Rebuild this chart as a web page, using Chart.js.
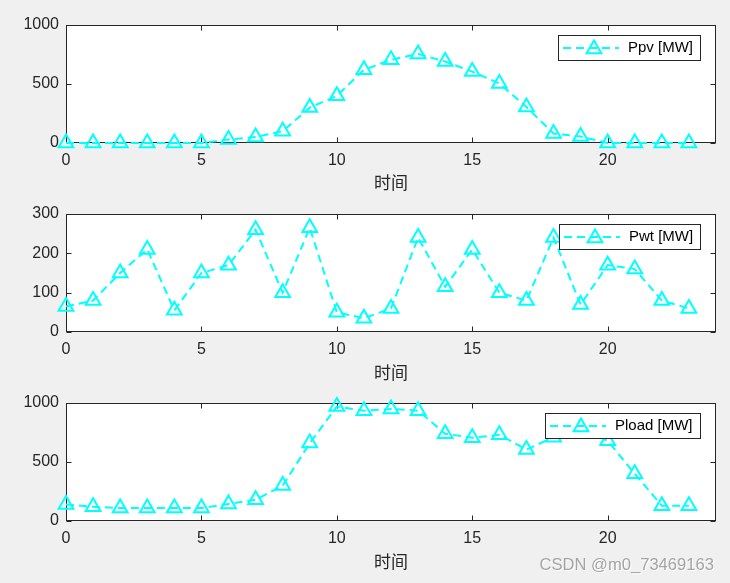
<!DOCTYPE html>
<html>
<head>
<meta charset="utf-8">
<script src="https://cdn.jsdelivr.net/npm/chart.js@4.4.0/dist/chart.umd.min.js"></script>
<style>
  body { margin: 0; background: #f0f0f0; width: 730px; height: 583px; position: relative; overflow: hidden; }
  canvas { position: absolute; left: 0; }
  #mark { position: absolute; right: 16px; top: 555px; font: 16.6px "Liberation Sans", Arial, sans-serif; color: #a4a4a4; text-shadow: 1px 1px 0 #fff; }
</style>
</head>
<body>
<canvas id="ppv" width="730" height="195" style="top:0px"></canvas>
<canvas id="pwt" width="730" height="190" style="top:195px"></canvas>
<canvas id="pload" width="730" height="189" style="top:385px"></canvas>
<div id="mark">CSDN @m0_73469163</div>
<script>
// 数据
const hours = [0, 1, 2, 3, 4, 5, 6, 7, 8, 9, 10, 11, 12, 13, 14, 15, 16, 17, 18, 19, 20, 21, 22, 23];
const ppv = [0, 0, 0, 0, 0, 0, 30, 50, 100, 300, 400, 620, 705, 755, 690, 605, 505, 305, 80, 55, 0, 0, 0, 0];
const pwt = [65, 80, 150, 210, 55, 150, 170, 260, 100, 265, 50, 35, 60, 240, 115, 210, 100, 80, 240, 70, 170, 160, 80, 60];
const pload = [140, 120, 110, 110, 110, 110, 145, 180, 300, 660, 970, 935, 950, 935, 740, 705, 730, 605, 710, 780, 680, 400, 130, 130];

const xTicks = [0, 5, 10, 15, 20];
const ppvTicks = [0, 500, 1000];
const pwtTicks = [0, 100, 200, 300];
const ploadTicks = [0, 500, 1000];
const xLabel = "时间";

const axisColor = "#262626";
const lineColor = "#00ffff";
const tickFont = { family: '"Liberation Sans", Arial, sans-serif', size: 16 };

function triangle(ctx, cx, cy, r) {
  ctx.beginPath();
  for (let i = 0; i < 3; i++) {
    const a = i * 2 * Math.PI / 3;
    const px = cx + Math.sin(a) * r;
    const py = cy - Math.cos(a) * r;
    if (i === 0) ctx.moveTo(px, py); else ctx.lineTo(px, py);
  }
  ctx.closePath();
  ctx.stroke();
}

// matlab 风格的坐标框 + 图例
const matlabBox = {
  id: "mbox",
  beforeDraw(chart) {
    const a = chart.chartArea, ctx = chart.ctx;
    ctx.save();
    ctx.fillStyle = "#ffffff";
    ctx.fillRect(a.left, a.top, a.right - a.left, a.bottom - a.top);
    ctx.restore();
  },
  beforeDatasetsDraw(chart) {
    const a = chart.chartArea, ctx = chart.ctx;
    const l = Math.round(a.left) + 0.5, r = Math.round(a.right) - 0.5;
    const t = Math.round(a.top) + 0.5, b = Math.round(a.bottom) - 0.5;
    ctx.save();
    ctx.strokeStyle = axisColor;
    ctx.lineWidth = 1;
    ctx.strokeRect(l, t, r - l, b - t);
    ctx.beginPath();
    chart.scales.x.ticks.forEach((tk) => {
      const px = Math.round(chart.scales.x.getPixelForValue(tk.value)) + 0.5;
      ctx.moveTo(px, b); ctx.lineTo(px, b - 5);
      ctx.moveTo(px, t); ctx.lineTo(px, t + 5);
    });
    chart.scales.y.ticks.forEach((tk) => {
      const py = Math.round(chart.scales.y.getPixelForValue(tk.value)) + 0.5;
      ctx.moveTo(l, py); ctx.lineTo(l + 5, py);
      ctx.moveTo(r, py); ctx.lineTo(r - 5, py);
    });
    ctx.stroke();
    ctx.restore();
  },
  afterDraw(chart, args, opts) {
    const a = chart.chartArea, ctx = chart.ctx;
    ctx.save();
    ctx.font = '15px "Liberation Sans", Arial, sans-serif';
    const tw = ctx.measureText(opts.text).width;
    const w = Math.round(tw + 77), h = 25;
    const x = Math.round(a.right - 16 - w), y = Math.round(a.top + 10);
    ctx.fillStyle = "#ffffff";
    ctx.fillRect(x, y, w, h);
    ctx.strokeStyle = axisColor;
    ctx.lineWidth = 1;
    ctx.strokeRect(x + 0.5, y + 0.5, w, h);
    const cy = y + h / 2 + 0.5;
    ctx.strokeStyle = lineColor;
    ctx.lineWidth = 2;
    ctx.setLineDash([8, 5]);
    ctx.beginPath();
    ctx.moveTo(x + 5, cy);
    ctx.lineTo(x + 61, cy);
    ctx.stroke();
    ctx.setLineDash([]);
    triangle(ctx, x + 36, cy + 1, 8.5);
    ctx.fillStyle = "#000000";
    ctx.textBaseline = "middle";
    ctx.fillText(opts.text, x + 70, cy);
    ctx.restore();
  },
};

function makePlot(canvasId, values, yTicks, label, axisTop, axisBottom) {
  const canvas = document.getElementById(canvasId);
  const h = canvas.height;
  new Chart(canvas.getContext("2d"), {
    type: "line",
    data: {
      datasets: [
        {
          label: label,
          data: hours.map((hr, i) => ({ x: hr, y: values[i] })),
          borderColor: lineColor,
          borderWidth: 2,
          borderDash: [8, 5],
          pointStyle: "triangle",
          pointRadius: 8.5,
          pointBorderWidth: 2,
          pointBorderColor: lineColor,
          pointBackgroundColor: "rgba(0,0,0,0)",
          fill: false,
          tension: 0,
          clip: false,
        },
      ],
    },
    options: {
      responsive: false,
      animation: false,
      devicePixelRatio: 1,
      layout: { padding: { top: axisTop, right: 14, left: 0, bottom: 0 } },
      plugins: {
        legend: { display: false },
        tooltip: { enabled: false },
        mbox: { text: label },
      },
      scales: {
        x: {
          type: "linear",
          min: 0,
          max: 24,
          grid: { display: false, drawTicks: false },
          border: { display: false },
          afterBuildTicks: (s) => { s.ticks = xTicks.map((v) => ({ value: v })); },
          afterFit: (s) => { s.height = h - axisBottom; },
          ticks: { padding: 8, color: axisColor, font: tickFont, maxRotation: 0, autoSkip: false, callback: (v) => String(v) },
          title: { display: true, text: xLabel, color: axisColor, font: { family: '"Noto Sans CJK SC"', size: 17 }, padding: { top: 0, bottom: 2 } },
        },
        y: {
          type: "linear",
          min: yTicks[0],
          max: yTicks[yTicks.length - 1],
          grid: { display: false, drawTicks: false },
          border: { display: false },
          afterBuildTicks: (s) => { s.ticks = yTicks.map((v) => ({ value: v })); },
          afterFit: (s) => { s.width = 66; },
          ticks: { padding: 7, color: axisColor, font: tickFont, autoSkip: false, callback: (v) => String(v) },
        },
      },
    },
    plugins: [matlabBox],
  });
}

makePlot("ppv", ppv, ppvTicks, "Ppv [MW]", 25, 143);
makePlot("pwt", pwt, pwtTicks, "Pwt [MW]", 19, 137);
makePlot("pload", pload, ploadTicks, "Pload [MW]", 18, 136);
</script>
</body>
</html>
